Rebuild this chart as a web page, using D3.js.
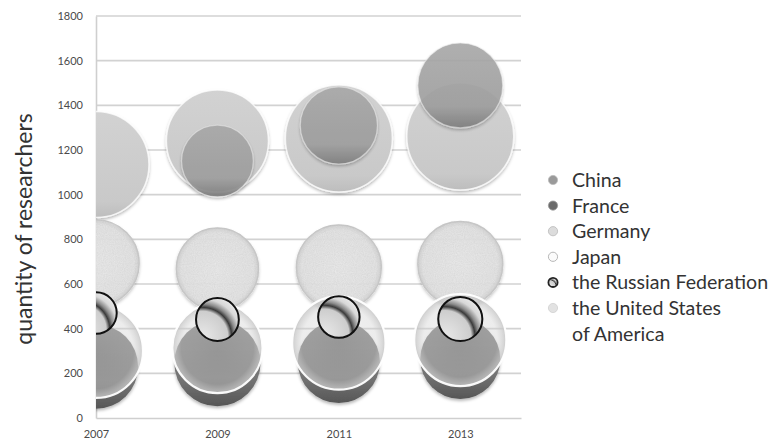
<!DOCTYPE html>
<html>
<head>
<meta charset="utf-8">
<script src="https://cdn.jsdelivr.net/npm/d3@7"></script>
<style>
  html, body { margin: 0; padding: 0; background: #fff; }
  svg { display: block; font-family: Lato, "Open Sans", sans-serif; }
</style>
</head>
<body>
<svg id="chart" width="772" height="444"></svg>
<script>
// Researchers (thousands) by country, with a bubble size for each point
const years = [2007, 2009, 2011, 2013];
const countries = ["China", "France", "Germany", "Japan", "the Russian Federation", "the United States of America"];

const chinaValues   = [null, 1151, 1310, 1489];
const franceValues  = [230, 246, 251, 264];
const germanyValues = [300, 313, 336, 349];
const japanValues   = [694, 667, 674, 690];
const russiaValues  = [470, 441, 452, 443];
const usaValues     = [1135, 1240, 1252, 1261];

const chinaSizes   = [null, 45, 52, 63];
const franceSizes  = [62, 65, 59, 56];
const germanySizes = [77, 71, 76, 74];
const japanSizes   = [65, 59, 63, 63];
const russiaSizes  = [15, 16, 15, 17];
const usaSizes     = [98, 91, 100, 100];

const yTicks = [0, 200, 400, 600, 800, 1000, 1200, 1400, 1600, 1800];
const xTicks = [2007, 2009, 2011, 2013];

const svg = d3.select("#chart");
const margin = { left: 96, right: 251, top: 16, bottom: 26 };
const W = 772, H = 444;
const plotW = W - margin.left - margin.right;
const plotH = H - margin.top - margin.bottom;

const x = d3.scaleLinear().domain([2007, 2014]).range([margin.left, margin.left + plotW]);
const y = d3.scaleLinear().domain([0, 1800]).range([margin.top + plotH, margin.top]);
const r = d3.scaleSqrt().domain([0, 100]).range([0, 53.5]);

const defs = svg.append("defs");

defs.append("clipPath").attr("id", "plotClip")
  .append("rect").attr("x", margin.left).attr("y", 0)
  .attr("width", plotW).attr("height", H);

// soft shadow under bubbles
const sh = defs.append("filter").attr("id", "shadow")
  .attr("x", "-20%").attr("y", "-20%").attr("width", "140%").attr("height", "150%");
sh.append("feDropShadow").attr("dx", 0).attr("dy", 2).attr("stdDeviation", 1.8)
  .attr("flood-color", "#000").attr("flood-opacity", 0.28);

// grainy texture for the Japan bubbles
const grain = defs.append("filter").attr("id", "grain")
  .attr("x", "-20%").attr("y", "-20%").attr("width", "140%").attr("height", "150%");
grain.append("feTurbulence").attr("type", "fractalNoise").attr("baseFrequency", 0.9)
  .attr("numOctaves", 2).attr("seed", 4).attr("result", "noise");
grain.append("feColorMatrix").attr("in", "noise").attr("type", "matrix")
  .attr("values", "0 0 0 0 0.5  0 0 0 0 0.5  0 0 0 0 0.5  0 0 0 0.45 0").attr("result", "dots");
grain.append("feComposite").attr("in", "dots").attr("in2", "SourceGraphic").attr("operator", "in").attr("result", "dotsIn");
grain.append("feMerge").call(m => {
  m.append("feMergeNode").attr("in", "SourceGraphic");
  m.append("feMergeNode").attr("in", "dotsIn");
});
grain.append("feDropShadow").attr("dx", 0).attr("dy", 2).attr("stdDeviation", 1.6)
  .attr("flood-color", "#000").attr("flood-opacity", 0.22);

function radial(id, stops, cx = "50%", cy = "50%", rr = "50%", fx, fy) {
  const g = defs.append("radialGradient").attr("id", id)
    .attr("cx", cx).attr("cy", cy).attr("r", rr);
  if (fx) g.attr("fx", fx).attr("fy", fy);
  stops.forEach(s => g.append("stop").attr("offset", s[0]).attr("stop-color", s[1]).attr("stop-opacity", s[2] ?? 1));
}
function linear(id, stops, y1 = "0%", y2 = "100%") {
  const g = defs.append("linearGradient").attr("id", id)
    .attr("x1", "0%").attr("x2", "0%").attr("y1", y1).attr("y2", y2);
  stops.forEach(s => g.append("stop").attr("offset", s[0]).attr("stop-color", s[1]).attr("stop-opacity", s[2] ?? 1));
}

linear("gUsa", [[0, "#d2d2d2"], [0.85, "#c9c9c9"], [1, "#bdbdbd"]]);
linear("gChina", [[0, "#a6a6a6"], [0.75, "#9c9c9c"], [1, "#7a7a7a"]]);
linear("gFrance", [[0, "#828282"], [0.7, "#737373"], [1, "#565656"]]);
radial("gGermany", [[0, "#d6d6d6", 0.3], [0.8, "#d0d0d0", 0.4], [0.95, "#c8c8c8", 0.75], [1, "#bdbdbd", 0.9]]);
radial("gJapan", [[0, "#ececec", 0.92], [0.88, "#e6e6e6", 0.92], [1, "#d2d2d2", 0.95]]);
radial("gRussia", [[0, "#e8e8e8"], [0.54, "#cdcdcd"], [0.62, "#3a3a3a"], [0.69, "#8a8a8a"], [0.8, "#d8d8d8"], [1, "#f2f2f2"]],
  "15%", "90%", "110%", "15%", "90%");

// gridlines and axis lines
const grid = svg.append("g");
grid.selectAll("line.grid").data(yTicks.filter(t => t > 0)).join("line")
  .attr("x1", margin.left).attr("x2", margin.left + plotW)
  .attr("y1", d => y(d)).attr("y2", d => y(d))
  .attr("stroke", "#d2d2d2").attr("stroke-width", 1.6);

const yAxis = svg.append("g").attr("transform", `translate(${margin.left},0)`)
  .call(d3.axisLeft(y).tickValues(yTicks).tickSize(0).tickPadding(13).tickFormat(d3.format("d")));
yAxis.select(".domain").attr("stroke", "#cfcfcf").attr("stroke-width", 1.6);
yAxis.selectAll("text").attr("fill", "#4a4a4a").attr("font-size", 11).attr("font-family", "Lato, sans-serif");

const xAxis = svg.append("g").attr("transform", `translate(0,${margin.top + plotH})`)
  .call(d3.axisBottom(x).tickValues(xTicks).tickSize(0).tickPadding(12).tickFormat(d3.format("d")));
xAxis.select(".domain").attr("stroke", "#cfcfcf").attr("stroke-width", 1.6);
xAxis.selectAll("text").attr("fill", "#4a4a4a").attr("font-size", 11).attr("font-family", "Lato, sans-serif");

// y axis title
svg.append("text")
  .attr("transform", `translate(32,${(margin.top + plotH / 2) + 12}) rotate(-90)`)
  .attr("text-anchor", "middle")
  .attr("font-size", 23).attr("fill", "#333")
  .text("quantity of researchers");

// bubbles, back to front
const series = [
  { name: countries[5], values: usaValues, sizes: usaSizes, fill: "url(#gUsa)", stroke: "rgba(255,255,255,0.75)", sw: 1.5, filter: "url(#shadow)", opacity: 1 },
  { name: countries[0], values: chinaValues, sizes: chinaSizes, fill: "url(#gChina)", stroke: "rgba(235,235,235,0.6)", sw: 1.2, filter: "url(#shadow)", opacity: 0.9 },
  { name: countries[3], values: japanValues, sizes: japanSizes, fill: "url(#gJapan)", stroke: "#c9c9c9", sw: 1.4, filter: "url(#grain)", opacity: 1 },
  { name: countries[1], values: franceValues, sizes: franceSizes, fill: "url(#gFrance)", stroke: "none", sw: 0, filter: "url(#shadow)", opacity: 1 },
  { name: countries[2], values: germanyValues, sizes: germanySizes, fill: "url(#gGermany)", stroke: "rgba(255,255,255,0.95)", sw: 2.2, filter: null, opacity: 1 },
  { name: countries[4], values: russiaValues, sizes: russiaSizes, fill: "url(#gRussia)", stroke: "#111", sw: 2, filter: null, opacity: 1 }
];

const plot = svg.append("g").attr("clip-path", "url(#plotClip)");
series.forEach(s => {
  const pts = years.map((yr, i) => ({ yr, v: s.values[i], size: s.sizes[i] })).filter(d => d.v != null);
  plot.append("g").attr("opacity", s.opacity)
    .selectAll("circle").data(pts).join("circle")
    .attr("cx", d => x(d.yr)).attr("cy", d => y(d.v)).attr("r", d => r(d.size))
    .attr("fill", s.fill).attr("stroke", s.stroke).attr("stroke-width", s.sw)
    .attr("filter", s.filter);
});

// legend
const legendItems = [
  { label: ["China"], fill: "#9a9a9a", stroke: "#bbb", sw: 0.8 },
  { label: ["France"], fill: "#6a6a6a", stroke: "#999", sw: 0.8 },
  { label: ["Germany"], fill: "#dcdcdc", stroke: "#c4c4c4", sw: 1 },
  { label: ["Japan"], fill: "#fbfbfb", stroke: "#b8b8b8", sw: 1 },
  { label: ["the Russian Federation"], fill: "url(#gRussia)", stroke: "#222", sw: 1.8 },
  { label: ["the United States", "of America"], fill: "#e2e2e2", stroke: "#d0d0d0", sw: 0.8 }
];
const lg = svg.append("g");
const rowH = 25.6;
let row = 0;
legendItems.forEach((it, i) => {
  const cy = 180 + row * rowH;
  lg.append("circle").attr("cx", 553).attr("cy", cy).attr("r", 4.6)
    .attr("fill", it.fill).attr("stroke", it.stroke).attr("stroke-width", it.sw);
  it.label.forEach((t, k) => {
    lg.append("text").attr("x", 572).attr("y", cy + k * rowH)
      .attr("dy", "0.36em").attr("font-size", 19.6).attr("fill", "#333").text(t);
  });
  row += it.label.length;
});
</script>
</body>
</html>
